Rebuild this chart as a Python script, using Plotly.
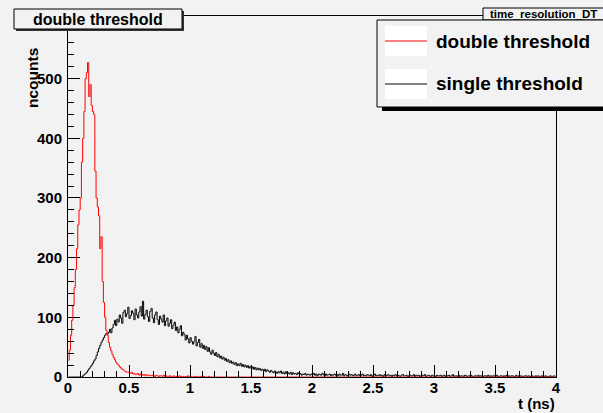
import plotly.graph_objects as go

# ---------------- data (bin width 0.01 ns, 0..4 ns) ----------------
bin_width = 0.01
n_bins = 400

red_counts = [
    28, 45, 70, 95, 120, 150, 180, 215, 255, 280,
    300, 360, 400, 445, 500, 510, 527, 470, 490, 455,
    445, 440, 345, 300, 285, 270, 215, 235, 160, 125,
    100, 78, 70, 58, 50, 44, 38, 33, 29, 25,
    22, 20, 17, 15, 13, 12, 10, 9, 8, 8,
    7, 6, 8, 5, 6, 4, 5, 6, 3, 5, 4, 3, 4, 2, 4, 3, 2, 3, 2, 3,
    2, 1, 3, 2, 1, 2, 2, 1, 3, 1, 2, 1, 1, 2, 1, 0, 2, 1, 1, 0,
    1, 2, 0, 1, 1, 0, 1, 0, 2, 0, 1, 0, 0, 1, 0, 1, 0, 0, 1, 0,
    0, 1, 0, 0, 0, 1, 0, 0, 0, 0,
]

black_counts = [
    0, 0, 0, 0, 0, 0, 0, 0, 0, 0, 0, 0,
    2, 4, 6, 8, 11, 14, 17, 20, 23, 27, 30, 36, 42, 48, 53, 58, 62, 66,
    70, 73, 72, 75, 80, 74,
    82, 88, 95, 86, 97, 92, 104, 99, 90, 108,
    112, 101, 106, 117, 98, 103, 111, 107, 96, 114,
    104, 99, 109, 118, 102, 127, 97, 105, 112, 101,
    93, 110, 115, 99, 91, 104, 109, 96, 88, 102,
    97, 92, 104, 86, 94, 99, 85, 90, 96, 81,
    87, 92, 78, 84, 74, 80, 86, 69, 75, 71,
    62, 70, 64, 57, 66, 60, 55, 59, 68, 52,
    58, 63, 50, 56, 48, 53, 46, 51, 43, 49,
    42, 38, 45, 40, 36, 41, 34, 38, 32, 35,
    30, 33, 28, 31, 26, 29, 24, 27, 23, 25,
    21, 24, 19, 22,
    19, 23, 18, 21, 17, 20, 16, 19, 15, 18,
    14, 17, 13, 16, 12, 15, 12, 14, 11, 13, 10, 13, 9, 12, 10, 8, 11, 9, 7, 10,
    8, 6, 9, 7, 10, 6, 8, 5, 9, 6, 7, 5, 8, 4, 7, 5, 6, 4, 7, 5,
    6, 3, 5, 4, 6, 3, 5, 4, 3, 5,
    4, 6, 3, 5, 2, 5, 4, 3, 6, 4, 2, 5, 3, 4, 5, 2, 4, 3, 5, 3,
    4, 2, 5, 3, 3, 6, 2, 4, 3, 2, 5, 3, 4, 2, 3, 5, 2, 3, 4, 2,
    3, 5, 2, 3, 2, 4, 3, 2, 4, 1, 3, 5, 2, 3, 2, 4, 2, 3, 1, 4,
    2, 3, 4, 2, 3, 1, 3, 2, 4, 2, 3, 2, 1, 3, 4, 2, 2, 3, 1, 2,
    3, 2, 2, 4, 1, 3, 2, 3, 1, 2, 3, 2, 4, 1, 2, 3, 2, 1, 3, 2,
    2, 1, 3, 2, 2, 3, 1, 2, 3, 1, 2, 2, 3, 1, 2, 4, 1, 2, 2, 1,
    3, 1, 2, 2, 1, 3, 2, 1, 2, 2, 3, 1, 1, 2, 2, 1, 3, 1, 2, 2,
    1, 2, 2, 1, 3, 1, 2, 1, 2, 2, 1, 3, 1, 1, 2, 2, 1, 2, 1, 3,
    1, 2, 1, 2, 2, 1, 1, 3, 1, 2, 1, 2, 1, 1, 2, 2, 1, 2, 1, 1,
    2, 1, 1, 2, 1, 2, 1, 1, 2, 1, 1, 2, 1, 1, 1, 2, 1, 1, 2, 1,
]

red_counts = (red_counts + [0] * n_bins)[:n_bins]
black_counts = (black_counts + [0] * n_bins)[:n_bins]
bin_centers = [bin_width * (i + 0.5) for i in range(n_bins)]

x_range = [0, 4]
y_range = [0, 605]
x_tickvals = [0, 0.5, 1, 1.5, 2, 2.5, 3, 3.5, 4]
x_ticktext = ["0", "0.5", "1", "1.5", "2", "2.5", "3", "3.5", "4"]
y_tickvals = [0, 100, 200, 300, 400, 500]
y_ticktext = ["0", "100", "200", "300", "400", "500"]

series_names = ["double threshold", "single threshold"]
series_colors = ["#ff0000", "#000000"]

# ---------------- figure ----------------
W, H = 603, 413
L, R, T, B = 68, 47, 16, 36
BG = "#f2f2f2"
FONT = "Liberation Sans, Arial, Helvetica, sans-serif"


def px(x):
    return (x - L) / (W - L - R)


def py(y):
    return (H - B - y) / (H - T - B)


fig = go.Figure()
fig.add_trace(go.Scatter(x=bin_centers, y=black_counts, mode="lines",
                         line=dict(color=series_colors[1], width=1, shape="hvh"),
                         name=series_names[1], hoverinfo="skip"))
fig.add_trace(go.Scatter(x=bin_centers, y=red_counts, mode="lines",
                         line=dict(color=series_colors[0], width=1, shape="hvh"),
                         name=series_names[0], hoverinfo="skip"))

axis_font = dict(family=FONT, size=15, color="black", weight="bold")

fig.update_layout(
    width=W, height=H,
    margin=dict(l=L, r=R, t=T, b=B, pad=0),
    paper_bgcolor=BG, plot_bgcolor=BG,
    showlegend=False,
    xaxis=dict(range=x_range, tickvals=x_tickvals, ticktext=x_ticktext,
               ticks="inside", ticklen=12, tickwidth=1, tickcolor="black",
               minor=dict(dtick=0.1, ticks="inside", ticklen=6, tickcolor="black", tickwidth=1),
               showgrid=False, zeroline=False, showline=True, linecolor="black",
               linewidth=1, mirror=True, tickfont=axis_font, ticklabelstandoff=-3),
    yaxis=dict(range=y_range, tickvals=y_tickvals, ticktext=y_ticktext,
               ticks="inside", ticklen=12, tickwidth=1, tickcolor="black",
               minor=dict(dtick=20, ticks="inside", ticklen=6, tickcolor="black", tickwidth=1),
               showgrid=False, zeroline=False, showline=True, linecolor="black",
               linewidth=1, mirror=True, tickfont=axis_font, ticklabelstandoff=2),
)

shapes = []
annotations = []

# title box with shadow
shapes.append(dict(type="rect", xref="paper", yref="paper", x0=px(16), x1=px(184), y0=py(31), y1=py(11),
                   fillcolor="#333333", line=dict(width=0), layer="above"))
shapes.append(dict(type="rect", xref="paper", yref="paper", x0=px(14), x1=px(182), y0=py(29), y1=py(9),
                   fillcolor=BG, line=dict(color="black", width=1), layer="above"))
annotations.append(dict(xref="paper", yref="paper", x=px(98), y=py(19), text="double threshold",
                        showarrow=False, xanchor="center", yanchor="middle",
                        font=dict(family=FONT, size=16, color="black", weight="bold")))

# stat box title
shapes.append(dict(type="rect", xref="paper", yref="paper", x0=px(483), x1=px(604), y0=py(20), y1=py(8),
                   fillcolor=BG, line=dict(color="black", width=1), layer="above"))
annotations.append(dict(xref="paper", yref="paper", x=px(543), y=py(14), text="time_resolution_DT",
                        showarrow=False, xanchor="center", yanchor="middle",
                        font=dict(family=FONT, size=11.5, color="black", weight="bold")))

# legend box with shadow
shapes.append(dict(type="rect", xref="paper", yref="paper", x0=px(382), x1=px(610), y0=py(111), y1=py(24),
                   fillcolor="black", line=dict(width=0), layer="above"))
shapes.append(dict(type="rect", xref="paper", yref="paper", x0=px(377), x1=px(606), y0=py(107), y1=py(20),
                   fillcolor=BG, line=dict(color="black", width=1), layer="above"))
legend_rows = [41, 84]
for name, color, yy in zip(series_names, series_colors, legend_rows):
    shapes.append(dict(type="rect", xref="paper", yref="paper", x0=px(385), x1=px(427),
                       y0=py(yy + 15), y1=py(yy - 15), fillcolor="white", line=dict(width=0), layer="above"))
    shapes.append(dict(type="line", xref="paper", yref="paper", x0=px(385), x1=px(427),
                       y0=py(yy), y1=py(yy), line=dict(color=color, width=1), layer="above"))
    annotations.append(dict(xref="paper", yref="paper", x=px(434), y=py(yy), text=name,
                            showarrow=False, xanchor="left", yanchor="middle",
                            font=dict(family=FONT, size=19, color="black", weight="bold")))

# axis titles
annotations.append(dict(xref="paper", yref="paper", x=px(557), y=py(403), text="t (ns)",
                        showarrow=False, xanchor="right", yanchor="middle",
                        font=dict(family=FONT, size=15, color="black", weight="bold")))
annotations.append(dict(xref="paper", yref="paper", x=px(32), y=py(46), text="ncounts",
                        showarrow=False, xanchor="center", yanchor="top", textangle=-90,
                        font=dict(family=FONT, size=15.5, color="black", weight="bold")))

fig.update_layout(shapes=shapes, annotations=annotations)
fig.write_html("out.html", config={"displayModeBar": False},
               post_script="document.body.style.margin='0';document.body.style.overflow='hidden';")
